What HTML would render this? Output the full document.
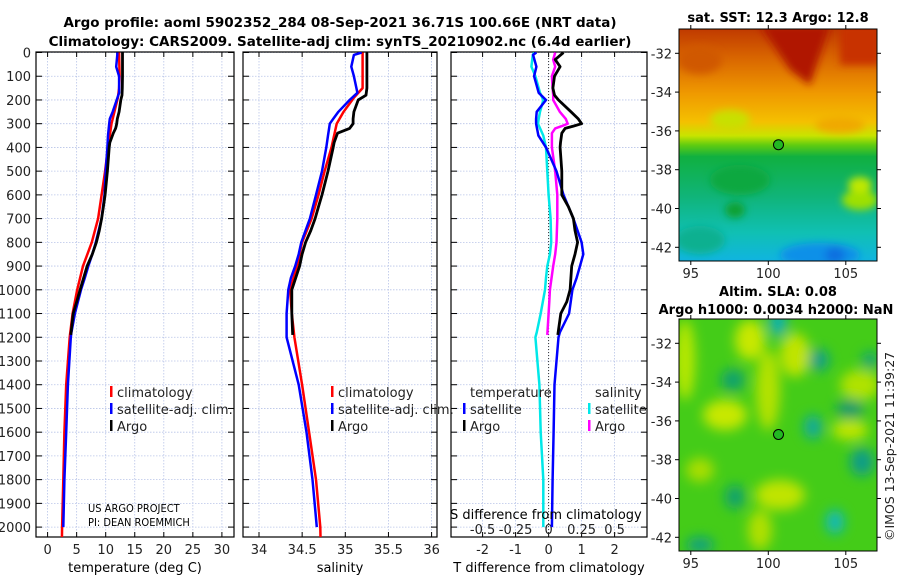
<!DOCTYPE html>
<html><head><meta charset="utf-8">
<style>
html,body{margin:0;padding:0;background:#fff;}
svg{display:block;font-family:"DejaVu Sans","Liberation Sans",sans-serif;}
</style></head>
<body>
<svg id="fig" width="900" height="580" viewBox="0 0 900 580" xmlns="http://www.w3.org/2000/svg">
<defs>
<linearGradient id="sstGrad" x1="0" y1="0" x2="0" y2="1">
<stop offset="0" stop-color="#c03a00"/><stop offset="0.12" stop-color="#d86400"/>
<stop offset="0.28" stop-color="#f09a00"/><stop offset="0.4" stop-color="#f4c000"/>
<stop offset="0.46" stop-color="#c8e400"/><stop offset="0.5" stop-color="#60cc10"/>
<stop offset="0.55" stop-color="#10b040"/><stop offset="0.72" stop-color="#10b478"/>
<stop offset="0.88" stop-color="#10c0b4"/><stop offset="1" stop-color="#10b4e0"/>
</linearGradient>
<filter id="blur4"><feGaussianBlur stdDeviation="4"/></filter>
<filter id="blur6"><feGaussianBlur stdDeviation="6"/></filter>
<clipPath id="clipTop"><rect x="679" y="29" width="198" height="232"/></clipPath>
<clipPath id="clipBot"><rect x="679" y="319" width="198" height="232"/></clipPath>
<clipPath id="clipP1"><rect x="36" y="52" width="198" height="485"/></clipPath>
<clipPath id="clipP2"><rect x="243" y="52" width="194" height="485"/></clipPath>
<clipPath id="clipP3"><rect x="451" y="52" width="196" height="485"/></clipPath>
</defs>

<text x="340" y="27" text-anchor="middle" font-weight="bold" font-size="13.5">Argo profile: aoml 5902352_284 08-Sep-2021 36.71S 100.66E (NRT data)</text>
<text x="340" y="46" text-anchor="middle" font-weight="bold" font-size="13.5">Climatology: CARS2009. Satellite-adj clim: synTS_20210902.nc (6.4d earlier)</text>

<!-- top map -->
<g>
<g clip-path="url(#clipTop)">
<rect x="679" y="29" width="198" height="232" fill="url(#sstGrad)"/>
<g filter="url(#blur4)">
<polygon points="760,25 830,25 810,85 790,70" fill="#b01800"/>
<rect x="840" y="25" width="40" height="40" fill="#c83000"/>
<ellipse cx="700" cy="60" rx="22" ry="14" fill="#d05800"/>
<ellipse cx="860" cy="200" rx="18" ry="10" fill="#9ee000"/>
<ellipse cx="860" cy="185" rx="12" ry="8" fill="#c0e800"/>
<ellipse cx="730" cy="120" rx="20" ry="10" fill="#c8e000"/>
<ellipse cx="840" cy="125" rx="25" ry="8" fill="#f0a800"/>
<ellipse cx="740" cy="180" rx="30" ry="15" fill="#10a840"/>
<ellipse cx="735" cy="210" rx="10" ry="8" fill="#10a030"/>
<ellipse cx="820" cy="255" rx="40" ry="12" fill="#1090e8"/>
<ellipse cx="835" cy="255" rx="10" ry="8" fill="#1070e0"/>
<ellipse cx="700" cy="240" rx="25" ry="14" fill="#10b090"/>
</g>
</g>
<rect x="679" y="29" width="198" height="232" fill="none" stroke="#000" stroke-width="1"/>
<circle cx="778.5" cy="144.7" r="5" fill="#22b822" stroke="#000" stroke-width="1"/>
</g>
<text x="778" y="22" text-anchor="middle" font-weight="bold" font-size="13">sat. SST: 12.3 Argo: 12.8</text>

<!-- bottom map -->
<g>
<g clip-path="url(#clipBot)">
<rect x="679" y="319" width="198" height="232" fill="#44cc18"/>
<g filter="url(#blur6)">
<ellipse cx="685" cy="360" rx="10" ry="40" fill="#b8e800"/>
<ellipse cx="750" cy="340" rx="15" ry="20" fill="#c8e800"/>
<ellipse cx="795" cy="355" rx="15" ry="22" fill="#c0e400"/>
<ellipse cx="768" cy="390" rx="12" ry="40" fill="#b4e200"/>
<ellipse cx="725" cy="415" rx="22" ry="15" fill="#c8e800"/>
<ellipse cx="850" cy="430" rx="18" ry="10" fill="#c0e600"/>
<ellipse cx="780" cy="495" rx="25" ry="15" fill="#c0e400"/>
<ellipse cx="760" cy="530" rx="12" ry="20" fill="#b0e000"/>
<ellipse cx="860" cy="385" rx="20" ry="15" fill="#b0e200"/>
<ellipse cx="700" cy="470" rx="14" ry="12" fill="#a8de00"/>
<ellipse cx="778" cy="323" rx="9" ry="14" fill="#10b0b0"/>
<ellipse cx="819" cy="360" rx="10" ry="11" fill="#109e8a"/>
<ellipse cx="733" cy="380" rx="12" ry="11" fill="#10a070"/>
<ellipse cx="813" cy="427" rx="9" ry="12" fill="#10a8a0"/>
<ellipse cx="850" cy="409" rx="14" ry="9" fill="#109870"/>
<ellipse cx="862" cy="462" rx="12" ry="14" fill="#109c88"/>
<ellipse cx="735" cy="497" rx="10" ry="12" fill="#10a070"/>
<ellipse cx="835" cy="522" rx="9" ry="12" fill="#10b8c0"/>
<ellipse cx="700" cy="545" rx="14" ry="8" fill="#10a080"/>
<ellipse cx="870" cy="360" rx="8" ry="8" fill="#10a080"/>
</g>
</g>
<rect x="679" y="319" width="198" height="232" fill="none" stroke="#000" stroke-width="1"/>
<circle cx="778.5" cy="434.5" r="5" fill="#22b822" stroke="#000" stroke-width="1"/>
</g>
<text x="778" y="296" text-anchor="middle" font-weight="bold" font-size="13">Altim. SLA: 0.08</text>
<text x="776" y="314" text-anchor="middle" font-weight="bold" font-size="13">Argo h1000: 0.0034 h2000: NaN</text>
<text transform="translate(894,541) rotate(-90)" font-size="12.5" fill="#222">©IMOS 13-Sep-2021 11:39:27</text>

<g id="axes"></g>

<text x="88" y="512" font-size="11" font-family="DejaVu Sans Condensed, DejaVu Sans, sans-serif">US ARGO PROJECT</text>
<text x="88" y="526" font-size="11" font-family="DejaVu Sans Condensed, DejaVu Sans, sans-serif">PI: DEAN ROEMMICH</text>
<text x="450" y="519" font-size="13">S difference from climatology</text>
<text x="135" y="572" text-anchor="middle" font-size="13">temperature (deg C)</text>
<text x="340" y="572" text-anchor="middle" font-size="13">salinity</text>
<text x="549" y="572" text-anchor="middle" font-size="13">T difference from climatology</text>

<script>
// ---- data ----
var depthTicks = [0,100,200,300,400,500,600,700,800,900,1000,1100,1200,1300,1400,1500,1600,1700,1800,1900,2000];
var tempTicks = [0,5,10,15,20,25,30];
var salTicks = [34,34.5,35,35.5,36];
var tdiffTicks = [-2,-1,0,1,2];
var sdiffTicks = [-0.5,-0.25,0,0.25,0.5];
var sdiffTickLabels = ["-0.5","-0.25","0","0.25","0.5"];
var latTicks = [-32,-34,-36,-38,-40,-42];
var lonTicks = [95,100,105];

var argoDepth = [0,30,60,100,150,180,200,250,280,300,310,320,340,380,400,500,600,650,700,750,800,850,900,1000,1050,1100,1190];
var argoTemp = [12.9,12.9,12.9,12.9,12.85,12.8,12.6,12.3,12.0,11.9,11.8,11.7,11.3,10.7,10.6,10.3,9.9,9.6,9.3,8.9,8.4,7.7,6.8,5.6,5.0,4.4,4.0];
var argoSal = [35.25,35.25,35.25,35.25,35.25,35.24,35.15,35.10,35.09,35.09,35.07,35.05,34.91,34.87,34.86,34.80,34.73,34.69,34.65,34.60,34.54,34.50,34.47,34.38,34.38,34.38,34.39];
var argoTdiff = [0.45,0.2,0.35,0.18,0.13,0.18,0.3,0.68,0.9,1.0,0.75,0.5,0.4,0.36,0.35,0.4,0.4,0.6,0.75,0.8,0.88,0.8,0.7,0.65,0.55,0.37,0.28];
var argoSdiff = [0.05,0.035,0.05,0.025,0.03,0.035,0.035,0.085,0.13,0.145,0.1,0.05,0.025,0.025,0.025,0.05,0.066,0.066,0.066,0.063,0.06,0.05,0.035,0.01,0.005,0.0,-0.01];

var climDepth = [0,100,150,190,200,250,300,400,500,600,700,800,900,1000,1100,1200,1400,1600,1800,2000,2160];
var climTemp = [12.3,12.4,12.3,12.1,12.0,11.5,11.0,10.4,9.9,9.3,8.7,7.6,6.1,5.1,4.3,3.8,3.2,2.9,2.7,2.5,2.4];
var climSal = [35.20,35.20,35.20,35.10,35.08,34.98,34.90,34.84,34.76,34.69,34.61,34.50,34.44,34.36,34.38,34.41,34.50,34.58,34.66,34.71,34.72];

var satDepth = [0,10,60,100,170,200,250,280,300,350,400,500,600,700,800,850,900,950,1000,1100,1180,1200,1400,1600,1800,2000];
var satTemp = [12.0,12.0,11.8,12.3,12.3,11.9,11.2,10.7,10.6,10.4,10.3,10.0,9.8,9.3,8.3,7.7,7.0,6.4,5.75,4.7,4.1,4.0,3.5,3.2,2.9,2.7];
var satSal = [35.19,35.10,35.07,35.10,35.14,35.05,34.92,34.86,34.82,34.80,34.78,34.73,34.66,34.59,34.49,34.46,34.42,34.37,34.34,34.32,34.32,34.32,34.46,34.55,34.62,34.67];
var satTdiff = [-0.37,-0.47,-0.37,-0.44,-0.3,-0.08,-0.36,-0.38,-0.38,-0.31,-0.08,0.24,0.45,0.75,1.0,1.05,0.95,0.85,0.72,0.62,0.34,0.3,0.18,0.15,0.12,0.1];
var satSdiff = [-0.11,-0.12,-0.13,-0.10,-0.065,-0.04,-0.065,-0.075,-0.08,-0.04,-0.02,-0.01,0.0,0.015,0.02,0.01,-0.01,-0.02,-0.027,-0.06,-0.09,-0.1,-0.07,-0.06,-0.04,-0.04];

// ---- axis functions ----
var NS = "http://www.w3.org/2000/svg";
var TOP = 52, BOT = 537;
function yD(d){ return 52.5 + d * 0.2373; }
function xT(t){ return 47.6 + t * 5.81; }
function xS(s){ return 259 + (s - 34) * 86.3; }
function xTd(v){ return 548.6 + v * 33; }
function xSd(v){ return 548.6 + v * 132; }
function lonX(l){ return 768.3 + (l - 100) * 15.5; }
function latYtop(l){ return 53.3 + (-32 - l) * 19.4; }
function latYbot(l){ return 343.3 + (-32 - l) * 19.4; }

var root = document.getElementById('axes');
function mk(tag, attrs, parent){
  var e = document.createElementNS(NS, tag);
  for (var k in attrs) e.setAttribute(k, attrs[k]);
  (parent || root).appendChild(e);
  return e;
}
function txt(x, y, s, anchor, size, parent){
  var t = mk('text', {x:x, y:y, 'text-anchor':anchor || 'middle', 'font-size':size || 13, fill:'#222'}, parent);
  t.textContent = s;
  return t;
}

var panels = [
  {name:'temperature', x0:36, x1:234, ticks:tempTicks, fx:xT, clip:'clipP1'},
  {name:'salinity', x0:243, x1:437, ticks:salTicks, fx:xS, clip:'clipP2'},
  {name:'difference', x0:451, x1:647, ticks:tdiffTicks, fx:xTd, clip:'clipP3'}
];
panels.forEach(function(p){
  var g = mk('g', {});
  
  
  depthTicks.forEach(function(d){
    var l = mk('line', {x1:p.x0, x2:p.x1, y1:yD(d), y2:yD(d), stroke:'#b8c4e8', 'stroke-width':0.8, 'stroke-dasharray':'1.5,1.5'}, g);
    
    
  });
  p.ticks.forEach(function(v){
    var l = mk('line', {x1:p.fx(v), x2:p.fx(v), y1:TOP, y2:BOT, stroke:'#b8c4e8', 'stroke-width':0.8, 'stroke-dasharray':'1.5,1.5'}, g);
    
    
    mk('line', {x1:p.fx(v), x2:p.fx(v), y1:BOT, y2:BOT-5, stroke:'#000'}, g);
    mk('line', {x1:p.fx(v), x2:p.fx(v), y1:TOP, y2:TOP+5, stroke:'#000'}, g);
    var t = txt(p.fx(v), 554, String(v), 'middle', 13, g);
    
    
  });
  depthTicks.forEach(function(d){
    mk('line', {x1:p.x0, x2:p.x0+6, y1:yD(d), y2:yD(d), stroke:'#000'}, g);
    mk('line', {x1:p.x1, x2:p.x1-6, y1:yD(d), y2:yD(d), stroke:'#000'}, g);
  });
  var fr = mk('rect', {x:p.x0, y:TOP, width:p.x1-p.x0, height:BOT-TOP, fill:'none', stroke:'#000', 'stroke-width':1.2}, g);
  
  
});

depthTicks.forEach(function(d){
  var t = txt(31, yD(d)+5, String(d), 'end', 13);
  
  
});
sdiffTicks.forEach(function(v, i){
  var t = txt(xSd(v), 534, sdiffTickLabels[i], 'middle', 13);
  
  
});

var zl = mk('line', {x1:xTd(0), x2:xTd(0), y1:TOP, y2:BOT, stroke:'#333', 'stroke-width':1, 'stroke-dasharray':'1,2'});



function series(depths, vals, fx, color, width, clip, name){
  var d = depths.map(function(z, i){ return (i ? 'L' : 'M') + fx(vals[i]).toFixed(1) + ',' + yD(z).toFixed(1); }).join('');
  var p = mk('path', {d:d, fill:'none', stroke:color, 'stroke-width':width, 'stroke-linejoin':'round', 'clip-path':'url(#' + clip + ')'});
  
  
}
series(climDepth, climTemp, xT, '#ff0000', 2.5, 'clipP1', 'climatology-temperature-line');
series(satDepth, satTemp, xT, '#0000ff', 2.5, 'clipP1', 'satellite-temperature-line');
series(argoDepth, argoTemp, xT, '#000000', 2.8, 'clipP1', 'argo-temperature-line');
series(climDepth, climSal, xS, '#ff0000', 2.5, 'clipP2', 'climatology-salinity-line');
series(satDepth, satSal, xS, '#0000ff', 2.5, 'clipP2', 'satellite-salinity-line');
series(argoDepth, argoSal, xS, '#000000', 2.8, 'clipP2', 'argo-salinity-line');
series(satDepth, satSdiff, xSd, '#00e8e8', 2.5, 'clipP3', 'satellite-s-diff-line');
series(argoDepth, argoSdiff, xSd, '#ff00ff', 2.5, 'clipP3', 'argo-s-diff-line');
series(satDepth, satTdiff, xTd, '#0000ff', 2.5, 'clipP3', 'satellite-t-diff-line');
series(argoDepth, argoTdiff, xTd, '#000000', 2.8, 'clipP3', 'argo-t-diff-line');

function legendEntry(x, y, color, label, name){
  var g = mk('g', {});
  
  
  if (color) mk('rect', {x:x, y:y-11, width:2.5, height:11, fill:color}, g);
  txt(x + 7, y, label, 'start', 13, g);
}
legendEntry(110, 397, '#ff0000', 'climatology', 'legend-entry-climatology');
legendEntry(110, 414, '#0000ff', 'satellite-adj. clim.', 'legend-entry-satellite');
legendEntry(110, 431, '#000000', 'Argo', 'legend-entry-argo');
legendEntry(331, 397, '#ff0000', 'climatology', 'legend-entry-climatology-sal');
legendEntry(331, 414, '#0000ff', 'satellite-adj. clim.', 'legend-entry-satellite-sal');
legendEntry(331, 431, '#000000', 'Argo', 'legend-entry-argo-sal');
legendEntry(463, 397, null, 'temperature', 'legend-title-temperature');
legendEntry(463, 414, '#0000ff', 'satellite', 'legend-entry-t-satellite');
legendEntry(463, 431, '#000000', 'Argo', 'legend-entry-t-argo');
legendEntry(588, 397, null, 'salinity', 'legend-title-salinity');
legendEntry(588, 414, '#00e8e8', 'satellite', 'legend-entry-s-satellite');
legendEntry(588, 431, '#ff00ff', 'Argo', 'legend-entry-s-argo');

[[latYtop, 261, 29], [latYbot, 551, 319]].forEach(function(m){
  latTicks.forEach(function(l){
    var y = m[0](l);
    mk('line', {x1:679, x2:675, y1:y, y2:y, stroke:'#000'});
    mk('line', {x1:877, x2:881, y1:y, y2:y, stroke:'#000'});
    var t = txt(672, y+5, String(l), 'end', 13);
    
    
  });
  lonTicks.forEach(function(l){
    var x = lonX(l);
    mk('line', {x1:x, x2:x, y1:m[1], y2:m[1]+4, stroke:'#000'});
    mk('line', {x1:x, x2:x, y1:m[2], y2:m[2]-4, stroke:'#000'});
    var t = txt(x, m[1]+17, String(l), 'middle', 13);
    
    
  });
});
</script>
</svg>
</body></html>
